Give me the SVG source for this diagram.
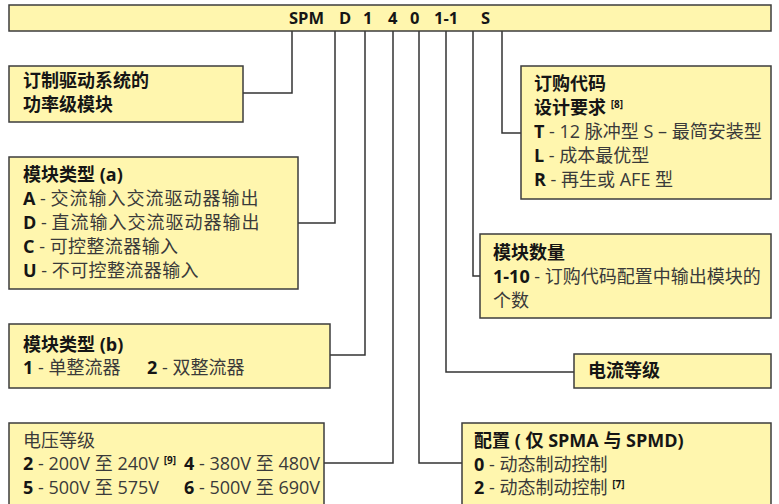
<svg xmlns="http://www.w3.org/2000/svg" width="779" height="504" viewBox="0 0 779 504">
<style>
.box{fill:#FFF6AE;stroke:#3d3d3d;stroke-width:1.5}
.t{font-family:"Open Sans","Noto Sans CJK SC",sans-serif;font-size:18px;fill:#3a3a3a}
.b{font-weight:bold;fill:#151515}
.sup{font-size:10px;font-weight:bold;fill:#151515}
.conn{fill:none;stroke:#333;stroke-width:1.5}
</style>
<rect width="779" height="504" fill="#fff"/>
<g id="connectors" class="conn">
<polyline points="292,31 292,93 243,93"/>
<polyline points="335,31 335,223 298,223"/>
<polyline points="365,31 365,355 330,355"/>
<polyline points="393,31 393,463 324,463"/>
<polyline points="419,31 419,463 462,463"/>
<polyline points="446,31 446,372 574,372"/>
<polyline points="473,31 473,276 480,276"/>
<polyline points="502,31 502,133 521,133"/>
</g>
<g id="code">
<rect class="box" x="9" y="5" width="762" height="26"/>
<text class="t b" y="24" style="font-size:16.5px"><tspan x="289">SPM</tspan> <tspan x="339">D</tspan> <tspan x="363">1</tspan> <tspan x="388">4</tspan> <tspan x="410">0</tspan> <tspan x="434">1-1</tspan> <tspan x="481">S</tspan></text>
</g>
<g id="power-module">
<rect class="box" x="9" y="66" width="234" height="56"/>
<text class="t b" x="23" y="87">订制驱动系统的</text>
<text class="t b" x="23" y="111">功率级模块</text>
</g>
<g id="module-type-a">
<rect class="box" x="9" y="157" width="289" height="132"/>
<text class="t b" x="23" y="181">模块类型 (a)</text>
<text class="t" x="23" y="205"><tspan class="b">A</tspan> - <tspan style="letter-spacing:1px">交流输入交流驱动器输出</tspan></text>
<text class="t" x="23" y="229"><tspan class="b">D</tspan> - <tspan style="letter-spacing:1px">直流输入交流驱动器输出</tspan></text>
<text class="t" x="23" y="253"><tspan class="b">C</tspan> - <tspan style="letter-spacing:0.4px">可控整流器输入</tspan></text>
<text class="t" x="23" y="277"><tspan class="b">U</tspan> - <tspan style="letter-spacing:0.4px">不可控整流器输入</tspan></text>
</g>
<g id="module-type-b">
<rect class="box" x="9" y="324" width="321" height="64"/>
<text class="t b" x="23" y="351">模块类型 (b)</text>
<text class="t" y="374"><tspan class="b" x="23">1</tspan> - 单整流器 <tspan class="b" x="147">2</tspan> - 双整流器</text>
</g>
<g id="voltage">
<rect class="box" x="9" y="423" width="315" height="100"/>
<text class="t" x="23" y="447">电压等级</text>
<text class="t" y="470"><tspan class="b" x="23">2</tspan> - 200V 至 240V <tspan class="sup" dy="-6">[9]</tspan> <tspan class="b" x="184" dy="6">4</tspan> - 380V 至 480V</text>
<text class="t" y="494"><tspan class="b" x="23">5</tspan> - 500V 至 575V <tspan class="b" x="184">6</tspan> - 500V 至 690V</text>
</g>
<g id="order-code">
<rect class="box" x="521" y="66" width="250" height="133"/>
<text class="t b" x="534" y="90">订购代码</text>
<text class="t b" x="534" y="114">设计要求 <tspan class="sup" dy="-6">[8]</tspan></text>
<text class="t" x="534" y="138"><tspan class="b">T</tspan> - 12 脉冲型 S – 最简安装型</text>
<text class="t" x="534" y="162"><tspan class="b">L</tspan> - 成本最优型</text>
<text class="t" x="534" y="186"><tspan class="b">R</tspan> - 再生或 AFE 型</text>
</g>
<g id="module-count">
<rect class="box" x="480" y="234" width="291" height="84"/>
<text class="t b" x="493" y="259">模块数量</text>
<text class="t" x="493" y="283"><tspan class="b">1-10</tspan> - 订购代码配置中输出模块的</text>
<text class="t" x="493" y="307">个数</text>
</g>
<g id="current">
<rect class="box" x="574" y="354" width="197" height="34"/>
<text class="t b" x="588" y="377">电流等级</text>
</g>
<g id="config">
<rect class="box" x="462" y="423" width="309" height="100"/>
<text class="t b" x="474" y="447">配置 ( 仅 SPMA 与 SPMD)</text>
<text class="t" x="474" y="471"><tspan class="b">0</tspan> - 动态制动控制</text>
<text class="t" x="474" y="494"><tspan class="b">2</tspan> - 动态制动控制 <tspan class="sup" dy="-6">[7]</tspan></text>
</g>
</svg>
